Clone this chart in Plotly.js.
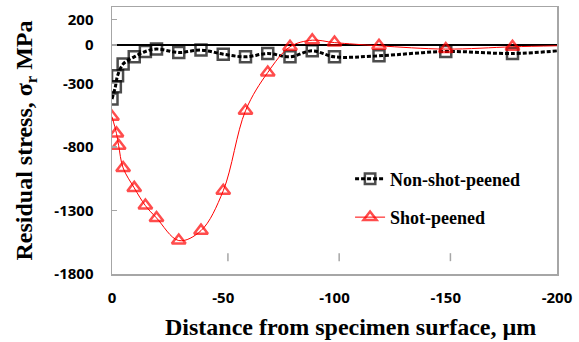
<!DOCTYPE html>
<html>
<head>
<meta charset="utf-8">
<script src="https://cdn.plot.ly/plotly-3.0.1.min.js"></script>
<style>html,body{margin:0;padding:0;background:#fff;}#chart{width:579px;height:342px;}</style>
</head>
<body>
<div id="chart"></div>
<script>
// Data
const depthNon = [0, -1.5, -2.5, -5, -10, -15, -20, -30, -40, -50, -60, -70, -80, -90, -100, -120, -150, -180, -200];
const stressNon = [-424, -328, -241, -149, -92, -50, -31, -58, -39, -71, -92, -66, -92, -45, -92, -84, -50, -66, -45];
const depthSP = [0, -2, -3, -5, -10, -15, -20, -30, -40, -50, -60, -70, -80, -90, -100, -120, -150, -180, -200];
const stressSP = [-563, -694, -791, -966, -1123, -1262, -1359, -1537, -1459, -1145, -516, -215, -13, 39, 20, -5, -31, -13, -5];
const seriesNames = ["Non-shot-peened", "Shot-peened"];
const yTicks = [200, 0, -300, -800, -1300, -1800];
const xTicks = [0, -50, -100, -150, -200];
const minorTicks = [-50, -100, -150];
const xTitle = "Distance from specimen surface, µm";
const yTitle = "Residual stress, σ<sub>r</sub> MPa";

const sizesNon = depthNon.map((d, i) => i === depthNon.length - 1 ? 0 : 11);
const sizesSP = depthSP.map((d, i) => i === depthSP.length - 1 ? 0 : 12);

const serif = "Liberation Serif, Times New Roman, serif";
const sans = "Open Sans, sans-serif";

const traces = [
  {
    x: depthNon, y: stressNon, name: seriesNames[0], type: "scatter", mode: "lines+markers",
    legendgroup: "a",
    line: {color: "#000", width: 3, dash: "4px,2px", shape: "spline", smoothing: 1},
    marker: {symbol: "square-open", size: sizesNon, color: "#000", line: {width: 2.5, color: "#000"}}
  },
  {
    x: depthSP, y: stressSP, name: seriesNames[1], type: "scatter", mode: "lines+markers",
    legendgroup: "b",
    line: {color: "#ff0000", width: 1, shape: "spline", smoothing: 1},
    marker: {symbol: "triangle-up-open", size: sizesSP, color: "#ff0000", line: {width: 2.5, color: "#ff0000"}}
  }
];

// floating gray tick marks near the bottom of the plot (as in the reference)
const tickShapes = minorTicks.map(v => ({
  type: "line", xref: "x", yref: "paper", x0: v - 2.1, x1: v - 2.1, y0: 0.048, y1: 0.078,
  line: {color: "#a6a6a6", width: 1.5}
}));

const layout = {
  width: 579, height: 342,
  margin: {l: 112, r: 22, t: 7, b: 68, pad: 0},
  paper_bgcolor: "#fff", plot_bgcolor: "#fff",
  showlegend: true,
  legend: {
    x: 0.535, y: 0.425, xanchor: "left", yanchor: "top",
    bgcolor: "rgba(0,0,0,0)", traceorder: "grouped", tracegroupgap: 12,
    font: {family: serif, size: 18, weight: "bold", color: "#000"}
  },
  xaxis: {
    range: [0, -200], tickvals: xTicks, ticktext: xTicks.map(String),
    showgrid: false, zeroline: false, ticks: "",
    showline: true, mirror: true, linecolor: "#a6a6a6", linewidth: 1.5,
    tickfont: {family: sans, size: 15, weight: "bold", color: "#000"},
    ticklabelstandoff: 9,
    automargin: false
  },
  yaxis: {
    range: [-1800, 300], tickvals: yTicks, ticktext: yTicks.map(String),
    showgrid: false, zeroline: true, zerolinecolor: "#000", zerolinewidth: 1.5,
    ticks: "inside", ticklen: 5, tickcolor: "#a6a6a6", tickwidth: 1.5,
    showline: true, mirror: true, linecolor: "#a6a6a6", linewidth: 1.5,
    tickfont: {family: sans, size: 15, weight: "bold", color: "#000"},
    ticklabelstandoff: 14,
    title: {text: yTitle, font: {family: serif, size: 24, weight: "bold", color: "#000"}, standoff: 15},
    automargin: false
  },
  shapes: tickShapes,
  annotations: [{
    text: xTitle, xref: "paper", yref: "paper", x: 0.537, y: -0.2, xanchor: "center", yanchor: "middle",
    showarrow: false, font: {family: serif, size: 24, weight: "bold", color: "#000"}
  }]
};

Plotly.newPlot("chart", traces, layout, {displayModeBar: false, staticPlot: true});
</script>
</body>
</html>
